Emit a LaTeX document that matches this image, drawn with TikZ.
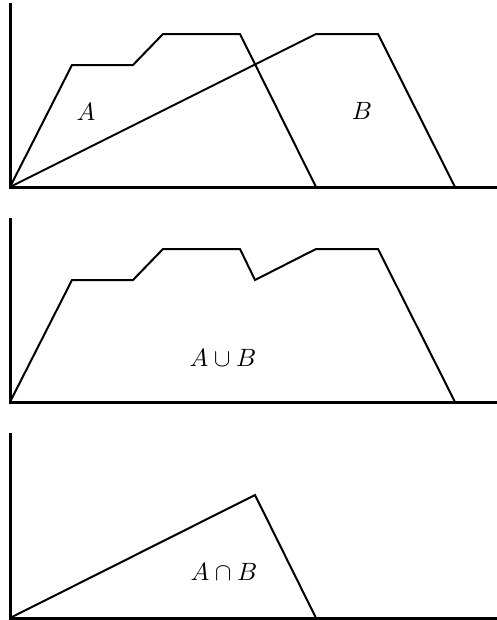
\documentclass[tikz,border=0pt]{standalone}
\begin{document}
\begin{tikzpicture}[x=0.4pt, y=-0.4pt, axis/.style={line width=1.2pt}, graph/.style={thick, line join=miter}]
			\useasboundingbox (0,0) rectangle (497,620);
			% sets A and B
			\draw[axis] (10,3) -- (10,187) -- (497,187);
			\draw[graph] (10,187) -- (72,65) -- (133,65) -- (163,34) -- (240,34) -- (316,187);
			\draw[graph] (10,187) -- (316,34) -- (378,34) -- (455,187);
			\node (labA) at (86,112) {$A$};
			\node (labB) at (362,111) {$B$};
			% union
			\draw[axis] (10,218) -- (10,402) -- (497,402);
			\draw[graph] (10,402) -- (72,280) -- (133,280) -- (163,249) -- (240,249) -- (255,280) -- (316,249) -- (378,249) -- (455,402);
			\node (labU) at (223,358) {$A\cup B$};
			% intersection
			\draw[axis] (10,433) -- (10,618) -- (497,618);
			\draw[graph] (10,618) -- (255,495) -- (316,618);
			\node (labI) at (224,572) {$A\cap B$};
		\end{tikzpicture}
\end{document}
